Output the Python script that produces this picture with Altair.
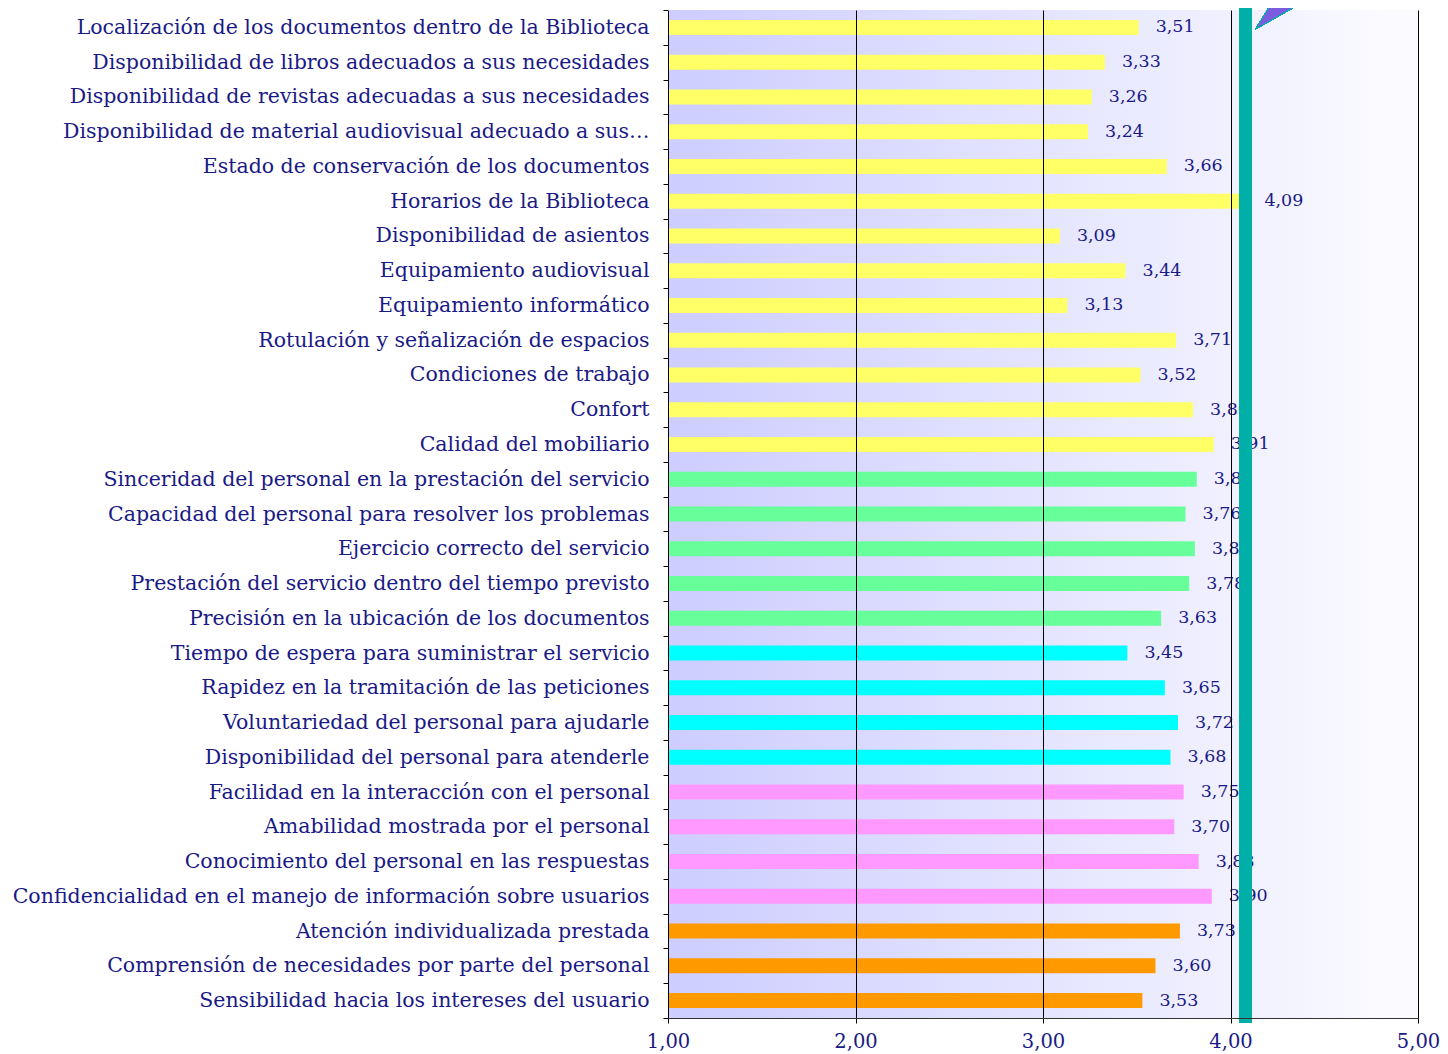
import altair as alt
import pandas as pd

categories = [
    "Localización de los documentos dentro de la Biblioteca",
    "Disponibilidad de libros adecuados a sus necesidades",
    "Disponibilidad de revistas adecuadas a sus necesidades",
    "Disponibilidad de material audiovisual adecuado a sus…",
    "Estado de conservación de los documentos",
    "Horarios de la Biblioteca",
    "Disponibilidad de asientos",
    "Equipamiento audiovisual",
    "Equipamiento informático",
    "Rotulación y señalización de espacios",
    "Condiciones de trabajo",
    "Confort",
    "Calidad del mobiliario",
    "Sinceridad del personal en la prestación del servicio",
    "Capacidad del personal para resolver los problemas",
    "Ejercicio correcto del servicio",
    "Prestación del servicio dentro del tiempo previsto",
    "Precisión en la ubicación de los documentos",
    "Tiempo de espera para suministrar el servicio",
    "Rapidez en la tramitación de las peticiones",
    "Voluntariedad del personal para ajudarle",
    "Disponibilidad del personal para atenderle",
    "Facilidad en la interacción con el personal",
    "Amabilidad mostrada por el personal",
    "Conocimiento del personal en las respuestas",
    "Confidencialidad en el manejo de información sobre usuarios",
    "Atención individualizada prestada",
    "Comprensión de necesidades por parte del personal",
    "Sensibilidad hacia los intereses del usuario",
]
values = [3.51, 3.33, 3.26, 3.24, 3.66, 4.09, 3.09, 3.44, 3.13, 3.71, 3.52, 3.80, 3.91,
          3.82, 3.76, 3.81, 3.78, 3.63,
          3.45, 3.65, 3.72, 3.68,
          3.75, 3.70, 3.83, 3.90,
          3.73, 3.60, 3.53]
groups = ["A"] * 13 + ["B"] * 5 + ["C"] * 4 + ["D"] * 4 + ["E"] * 3
group_names = ["A", "B", "C", "D", "E"]
group_colors = ["#ffff66", "#66ff99", "#00ffff", "#ff99ff", "#ff9900"]
x_ticks = [1, 2, 3, 4, 5]
x_min, x_max = 1, 5
reference_value = 4.08

df = pd.DataFrame({"cat": categories, "val": values, "grp": groups})

W, H = 750, 1008
NAVY = "#1a1a86"

xscale = alt.Scale(domain=[x_min, x_max], nice=False, zero=False)

bg = alt.Chart(df).mark_rect(
    color=alt.Gradient(
        gradient="linear",
        stops=[alt.GradientStop(color="#cdcdff", offset=0),
               alt.GradientStop(color="#fcfcff", offset=1)],
        x1=0, x2=1, y1=0, y2=0,
    )
).encode(
    x=alt.datum(x_min, scale=xscale),
    x2=alt.datum(x_max),
    y=alt.value(0),
    y2=alt.value(H),
)

ybase = alt.Y("cat:N", sort=categories, title=None,
              scale=alt.Scale(paddingInner=0, paddingOuter=0),
              axis=alt.Axis(tickBand="extent", tickSize=5, tickColor="black",
                            domainColor="black", labelFontSize=20.5, labelColor=NAVY,
                            labelPadding=14, labelLimit=700, labelFont="DejaVu Serif"))

bars = alt.Chart(df).mark_bar(size=15).encode(
    x=alt.X("val:Q", scale=xscale, title=None,
            axis=alt.Axis(values=x_ticks, grid=True, gridColor="black", gridWidth=1,
                          tickSize=5, tickColor="black", domainColor="#333333",
                          labelFontSize=19.5, labelColor=NAVY, labelPadding=9,
                          labelFlush=False,
                          labelFont="DejaVu Serif", zindex=1,
                          labelExpr="replace(format(datum.value, '.2f'), '.', ',')")),
    x2=alt.datum(x_min),
    y=ybase,
    color=alt.Color("grp:N", scale=alt.Scale(domain=group_names, range=group_colors), legend=None),
)

text = alt.Chart(df).transform_calculate(
    lab="replace(format(datum.val, '.2f'), '.', ',')"
).mark_text(align="left", baseline="middle", dx=17, fontSize=17.5,
            color=NAVY, font="DejaVu Serif").encode(
    x=alt.X("val:Q", scale=xscale),
    y=alt.Y("cat:N", sort=categories),
    text="lab:N",
)

ref_rule = alt.Chart(df).mark_rule(color="#00b0a8", strokeWidth=12).encode(
    x=alt.datum(reference_value, scale=xscale),
    y=alt.value(-3),
    y2=alt.value(H + 5),
)

arrow = alt.Chart(df).mark_point(
    shape="M-0.85,0.483 L-0.25,-0.483 L0.85,-0.483 Z",
    size=3600, filled=True, fill="#7b5ce0", stroke="#00b0a8", strokeWidth=1, opacity=1,
).encode(
    x=alt.datum(4.27, scale=xscale),
    y=alt.value(4.5),
)

chart = alt.layer(bg, bars, text, ref_rule, arrow).properties(
    width=W, height=H,
    autosize=alt.AutoSizeParams(type="none"),
    padding={"left": 660, "top": 2, "right": 22, "bottom": 36},
).configure_view(
    stroke="#808080", strokeWidth=2
).configure(font="DejaVu Serif")

chart.save("out.html", embed_options={"renderer": "svg", "actions": False})
